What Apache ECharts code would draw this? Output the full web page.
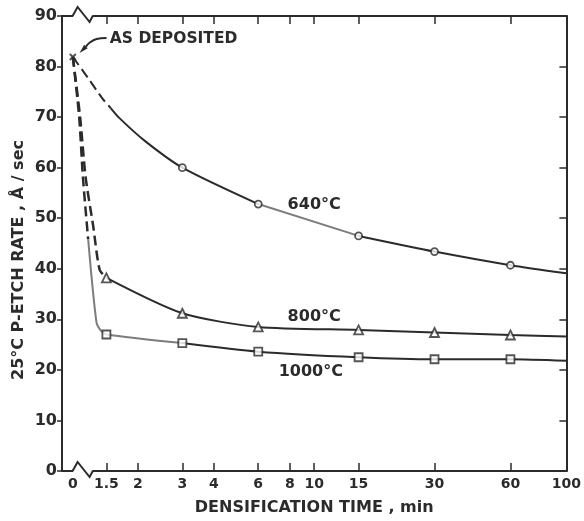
<!DOCTYPE html>
<html>
<head>
<meta charset="utf-8">
<script src="https://cdn.jsdelivr.net/npm/echarts@6.0.0/dist/echarts.min.js"></script>
<style>
  html, body { margin: 0; padding: 0; background: #fff; }
  #chart { width: 584px; height: 521px; }
</style>
</head>
<body>
<div id="chart"></div>
<script>
// time axis ticks (min) - axis is log10 with a break before 1.5
var timeTicks = [0, 1.5, 2, 3, 4, 6, 8, 10, 15, 30, 60, 100];

// as deposited film
var asDeposited = [0, 81.9];

// 640 C
var t640 = [0, 1.27, 1.45, 1.56, 1.69, 2.13, 3, 6, 15, 30, 60, 100];
var r640 = [81.9, 77.7, 73.6, 71.8, 69.8, 65.3, 60.0, 52.8, 46.5, 43.4, 40.7, 39.1];
var mark640 = [3, 6, 15, 30, 60];

// 800 C
var t800 = [0, 1.18, 1.24, 1.33, 1.41, 1.5, 3, 6, 15, 30, 60, 100];
var r800 = [81.9, 70.0, 58.2, 48.4, 39.8, 38.2, 31.2, 28.5, 27.9, 27.4, 26.9, 26.6];
var mark800 = [1.5, 3, 6, 15, 30, 60];

// 1000 C
var t1000 = [0, 1.17, 1.21, 1.27, 1.37, 1.43, 1.5, 3, 6, 15, 30, 60, 100];
var r1000 = [81.9, 70.0, 58.2, 45.8, 29.4, 27.7, 27.0, 25.3, 23.6, 22.5, 22.1, 22.1, 21.8];
var mark1000 = [1.5, 3, 6, 15, 30, 60];

var ZERO_U = 0.043; // where t=0 sits left of the break
var INK = '#2b2b2b';
var GREY = '#7d7d7d';
var FONT = 'DejaVu Sans';

function toU(t) {
  return t === 0 ? ZERO_U : Math.log10(t);
}

// piece of a curve between two indexes
function seg(ts, rs, from, to, color, dashed, width) {
  var data = [];
  for (var i = from; i <= to; i++) data.push([toU(ts[i]), rs[i]]);
  return {
    type: 'line',
    data: data,
    smooth: 0.25,
    showSymbol: false,
    silent: true,
    lineStyle: {
      color: color,
      width: width,
      type: dashed ? [10, 5] : 'solid'
    },
    z: 2
  };
}

function marks(ts, rs, mk, symbol, size) {
  return {
    type: 'scatter',
    symbol: symbol,
    symbolSize: size,
    data: mk.map(function (t) { return [toU(t), rs[ts.indexOf(t)]]; }),
    itemStyle: { color: '#fff', borderColor: INK, borderWidth: 1.8 },
    z: 5
  };
}

var chart = echarts.init(document.getElementById('chart'));

var tickU = timeTicks.map(toU);

var option = {
  animation: false,
  grid: { left: 62, right: 15, top: 16, bottom: 50 },
  xAxis: [{
    type: 'value',
    min: 0,
    max: 2,
    position: 'bottom',
    name: 'DENSIFICATION TIME , min',
    nameLocation: 'middle',
    nameGap: 29,
    nameTextStyle: { fontFamily: FONT, fontWeight: 'bold', fontSize: 16, color: INK },
    axisLine: { onZero: false, lineStyle: { color: INK, width: 2 } },
    axisTick: { inside: true, length: 8, lineStyle: { color: INK, width: 1.5 },
      customValues: tickU.slice(1) },
    axisLabel: {
      customValues: tickU,
      margin: 6,
      fontFamily: FONT, fontWeight: 'bold', fontSize: 14, color: INK,
      formatter: function (v) {
        for (var i = 0; i < tickU.length; i++) {
          if (Math.abs(tickU[i] - v) < 1e-6) return String(timeTicks[i]);
        }
        return '';
      }
    },
    splitLine: { show: false }
  }, {
    type: 'value',
    min: 0,
    max: 2,
    position: 'top',
    axisLine: { onZero: false, lineStyle: { color: INK, width: 2 } },
    axisTick: { inside: true, length: 8, lineStyle: { color: INK, width: 1.5 },
      customValues: tickU.slice(1) },
    axisLabel: { show: false },
    splitLine: { show: false }
  }],
  yAxis: [{
    type: 'value',
    min: 0,
    max: 90,
    interval: 10,
    axisLine: { show: true, onZero: false, lineStyle: { color: INK, width: 2 } },
    axisTick: { show: true, length: 5, lineStyle: { color: INK, width: 1.5 } },
    axisLabel: { margin: 5, fontFamily: FONT, fontWeight: 'bold', fontSize: 16, color: INK },
    splitLine: { show: false }
  }, {
    type: 'value',
    min: 0,
    max: 90,
    interval: 10,
    position: 'right',
    axisLine: { show: true, onZero: false, lineStyle: { color: INK, width: 2 } },
    axisTick: { show: true, inside: true, length: 7, lineStyle: { color: INK, width: 1.5 } },
    axisLabel: { show: false },
    splitLine: { show: false }
  }],
  series: [
    // 640
    seg(t640, r640, 0, 3, INK, true, 2),
    seg(t640, r640, 3, 7, INK, false, 2),
    seg(t640, r640, 7, 8, GREY, false, 2),
    seg(t640, r640, 8, 11, INK, false, 2),
    // 800
    seg(t800, r800, 0, 5, INK, true, 2.5),
    seg(t800, r800, 5, 11, INK, false, 2),
    // 1000
    seg(t1000, r1000, 0, 3, INK, true, 2.5),
    seg(t1000, r1000, 3, 7, GREY, false, 2),
    seg(t1000, r1000, 7, 12, INK, false, 2),
    marks(t640, r640, mark640, 'circle', 7),
    marks(t800, r800, mark800, 'triangle', 9),
    marks(t1000, r1000, mark1000, 'rect', 8),
    {
      type: 'scatter',
      symbol: 'path://M0,0L10,10M10,0L0,10',
      symbolSize: 6,
      data: [[toU(asDeposited[0]), asDeposited[1]]],
      itemStyle: { color: 'none', borderColor: INK, borderWidth: 2 },
      z: 6
    }
  ]
};

chart.setOption(option);

// annotations placed through the grid coordinates
function px(u, v) {
  return chart.convertToPixel({ xAxisIndex: 0, yAxisIndex: 0 }, [u, v]);
}

var g = [];
var bottomY = px(0, 0)[1];
var topY = px(0, 90)[1];
var a = px(0.042, 0)[0];
var b = px(0.122, 0)[0];

// zigzag breaks on bottom and top axes
[bottomY, topY].forEach(function (y0) {
  g.push({
    type: 'rect', z: 100,
    shape: { x: a + 0.5, y: y0 - 3, width: b - a - 1, height: 6 },
    style: { fill: '#fff' }
  });
  g.push({
    type: 'polyline', z: 101,
    shape: { points: [[a, y0], [a + 5, y0 - 9], [a + 17, y0 + 6], [b, y0]] },
    style: { stroke: INK, lineWidth: 2, fill: null }
  });
});

// "AS DEPOSITED" arrow
var P = px(toU(asDeposited[0]), asDeposited[1]);
g.push({
  type: 'polyline', z: 100,
  shape: {
    points: [[P[0] + 33.7, P[1] - 19], [P[0] + 23.7, P[1] - 18], [P[0] + 17, P[1] - 14.5], [P[0] + 13.1, P[1] - 10.4]],
    smooth: 0.4
  },
  style: { stroke: INK, lineWidth: 2, fill: null }
});
g.push({
  type: 'polygon', z: 100,
  shape: { points: [[P[0] + 6.7, P[1] - 4], [P[0] + 14.9, P[1] - 8.6], [P[0] + 11.3, P[1] - 12.2]] },
  style: { fill: INK }
});
g.push({
  type: 'text', z: 100,
  x: P[0] + 37, y: P[1] - 18,
  style: {
    text: 'AS DEPOSITED', fill: INK, font: 'bold 15.5px "DejaVu Sans"',
    verticalAlign: 'middle', align: 'left'
  }
});

// curve labels
[['640°C', 10, 52.6], ['800°C', 10, 30.5], ['1000°C', 9.7, 19.6]].forEach(function (d) {
  var p = px(Math.log10(d[1]), d[2]);
  g.push({
    type: 'text', z: 100, x: p[0], y: p[1],
    style: { text: d[0], fill: INK, font: 'bold 16px "DejaVu Sans"', align: 'center', verticalAlign: 'middle' }
  });
});

// y axis title
g.push({
  type: 'text', z: 100, x: 19, y: 260, rotation: Math.PI / 2,
  style: { text: '25°C P-ETCH RATE , Å / sec', fill: INK, font: 'bold 16px "DejaVu Sans"', align: 'center', verticalAlign: 'middle' }
});

chart.setOption({ graphic: g });
</script>
</body>
</html>
